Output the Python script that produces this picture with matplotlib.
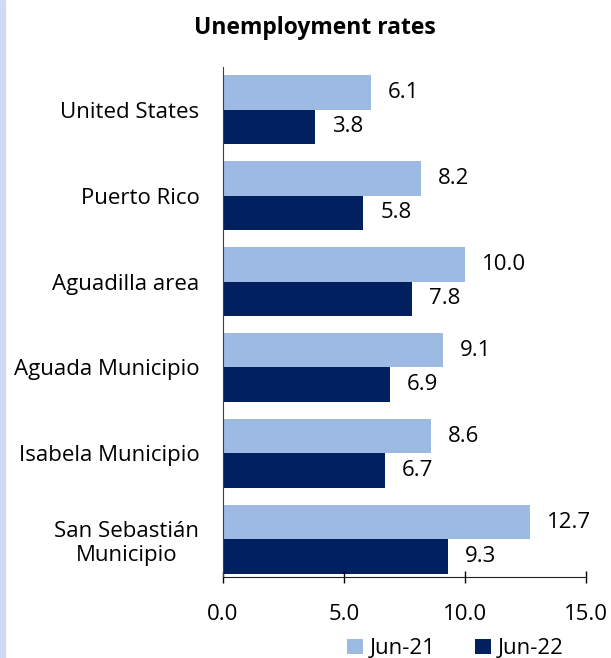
import numpy as np
import matplotlib
matplotlib.use("Agg")
import matplotlib.pyplot as plt
from matplotlib.patches import Rectangle

plt.rcParams['font.family'] = ['Open Sans', 'DejaVu Sans']

# datos
areas = ["United States", "Puerto Rico", "Aguadilla area", "Aguada Municipio",
         "Isabela Municipio", "San Sebastián\nMunicipio"]
jun21 = [6.1, 8.2, 10.0, 9.1, 8.6, 12.7]
jun22 = [3.8, 5.8, 7.8, 6.9, 6.7, 9.3]

c21 = "#9dbae3"
c22 = "#002060"
fs = 16

fig = plt.figure(figsize=(6.11, 6.58), dpi=100)
ax = fig.add_axes([0.365, 0.123, 0.594, 0.775])

y = np.arange(len(areas))
h = 0.4
ax.barh(y - h / 2, jun21, height=h, color=c21, label="Jun-21")
ax.barh(y + h / 2, jun22, height=h, color=c22, label="Jun-22")

for i in range(len(areas)):
    ax.text(jun21[i] + 0.7, y[i] - h / 2, f"{jun21[i]:.1f}", va="center", ha="left", fontsize=fs)
    ax.text(jun22[i] + 0.7, y[i] + h / 2, f"{jun22[i]:.1f}", va="center", ha="left", fontsize=fs)

ax.set_ylim(5.437, -0.493)
ax.set_xlim(0, 15)
ax.set_xticks([0, 5, 10, 15])
ax.set_xticklabels(["0.0", "5.0", "10.0", "15.0"], fontsize=fs)
ax.set_yticks(y)
ax.set_yticklabels(areas, fontsize=fs, multialignment="center")
ax.tick_params(axis="y", length=0, pad=17)
ax.tick_params(axis="x", direction="inout", length=9, width=1, pad=15)

for s in ["top", "right"]:
    ax.spines[s].set_visible(False)
ax.spines["left"].set_color("#404040")
ax.spines["bottom"].set_color("#202020")

fig.text(0.516, 0.957, "Unemployment rates", ha="center", va="center",
         fontsize=16.5, fontweight="bold")

fig.legend(loc="center", bbox_to_anchor=(0.745, 0.014), ncol=2, frameon=False,
           fontsize=fs, handlelength=0.7, handleheight=0.7, columnspacing=1.8,
           handletextpad=0.3)

# franja azul a la izquierda
fig.patches.append(Rectangle((0, 0), 0.008, 1, transform=fig.transFigure,
                             color="#cddcf2", zorder=0))

fig.savefig("out.png", dpi=100)
